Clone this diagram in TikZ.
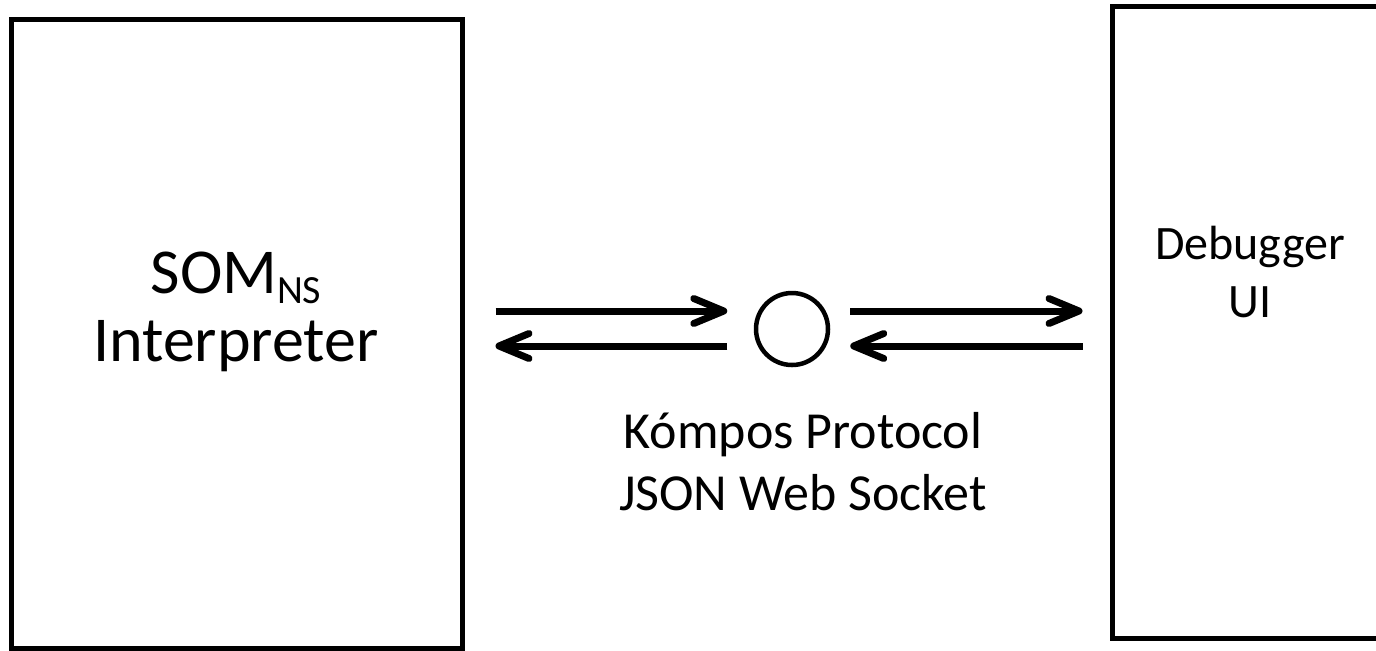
\documentclass[tikz,border=0pt]{standalone}
\usepackage{fontspec}
\setmainfont{Carlito}
\usetikzlibrary{arrows.meta}
\newcommand{\lowered}[1]{\raisebox{-5pt}{\fontsize{20}{20}\selectfont #1}}

\begin{document}
\begin{tikzpicture}[x=0.5pt,y=-0.5pt,
  box/.style={draw,line width=2.5pt,inner sep=0pt},
  msg/.style={line width=3.5pt,-{Straight Barb[length=15pt,width=12.5pt,round]}},
  lbl/.style={align=center,inner sep=0pt}]
\useasboundingbox (0,0) rectangle (1376,650);
\clip (0,0) rectangle (1376,650);

\node[box,minimum width=225.75pt,minimum height=314.5pt] (interp) at (236.75,333.5) {};
\node[box,minimum width=138pt,minimum height=315.75pt] (debug) at (1250,322.25) {};
\node[draw,circle,line width=2.25pt,inner sep=0pt,minimum size=36pt] (socket) at (792,329) {};

\coordinate (up) at (0,311);
\coordinate (dn) at (0,346);

\draw[msg,shorten <=15.25pt,shorten >=13.25pt] (interp.east |- up) -- (socket.west |- up);
\draw[msg,shorten <=13.25pt,shorten >=15.25pt] (socket.west |- dn) -- (interp.east |- dn);
\draw[msg,shorten <=10pt,shorten >=13.5pt] (socket.east |- up) -- (debug.west |- up);
\draw[msg,shorten <=13.5pt,shorten >=10pt] (debug.west |- dn) -- (socket.east |- dn);

\node[lbl,font=\fontsize{32}{34}\selectfont] (interplbl) at (236,312) {SOM\lowered{NS}\\Interpreter};
\node[lbl,font=\fontsize{26}{31}\selectfont] (protolbl) at (803,462) {Kómpos Protocol\\JSON Web Socket};
\node[lbl,font=\fontsize{24}{29}\selectfont] (debuglbl) at (1250,272) {Debugger\\UI};
\end{tikzpicture}
\end{document}
